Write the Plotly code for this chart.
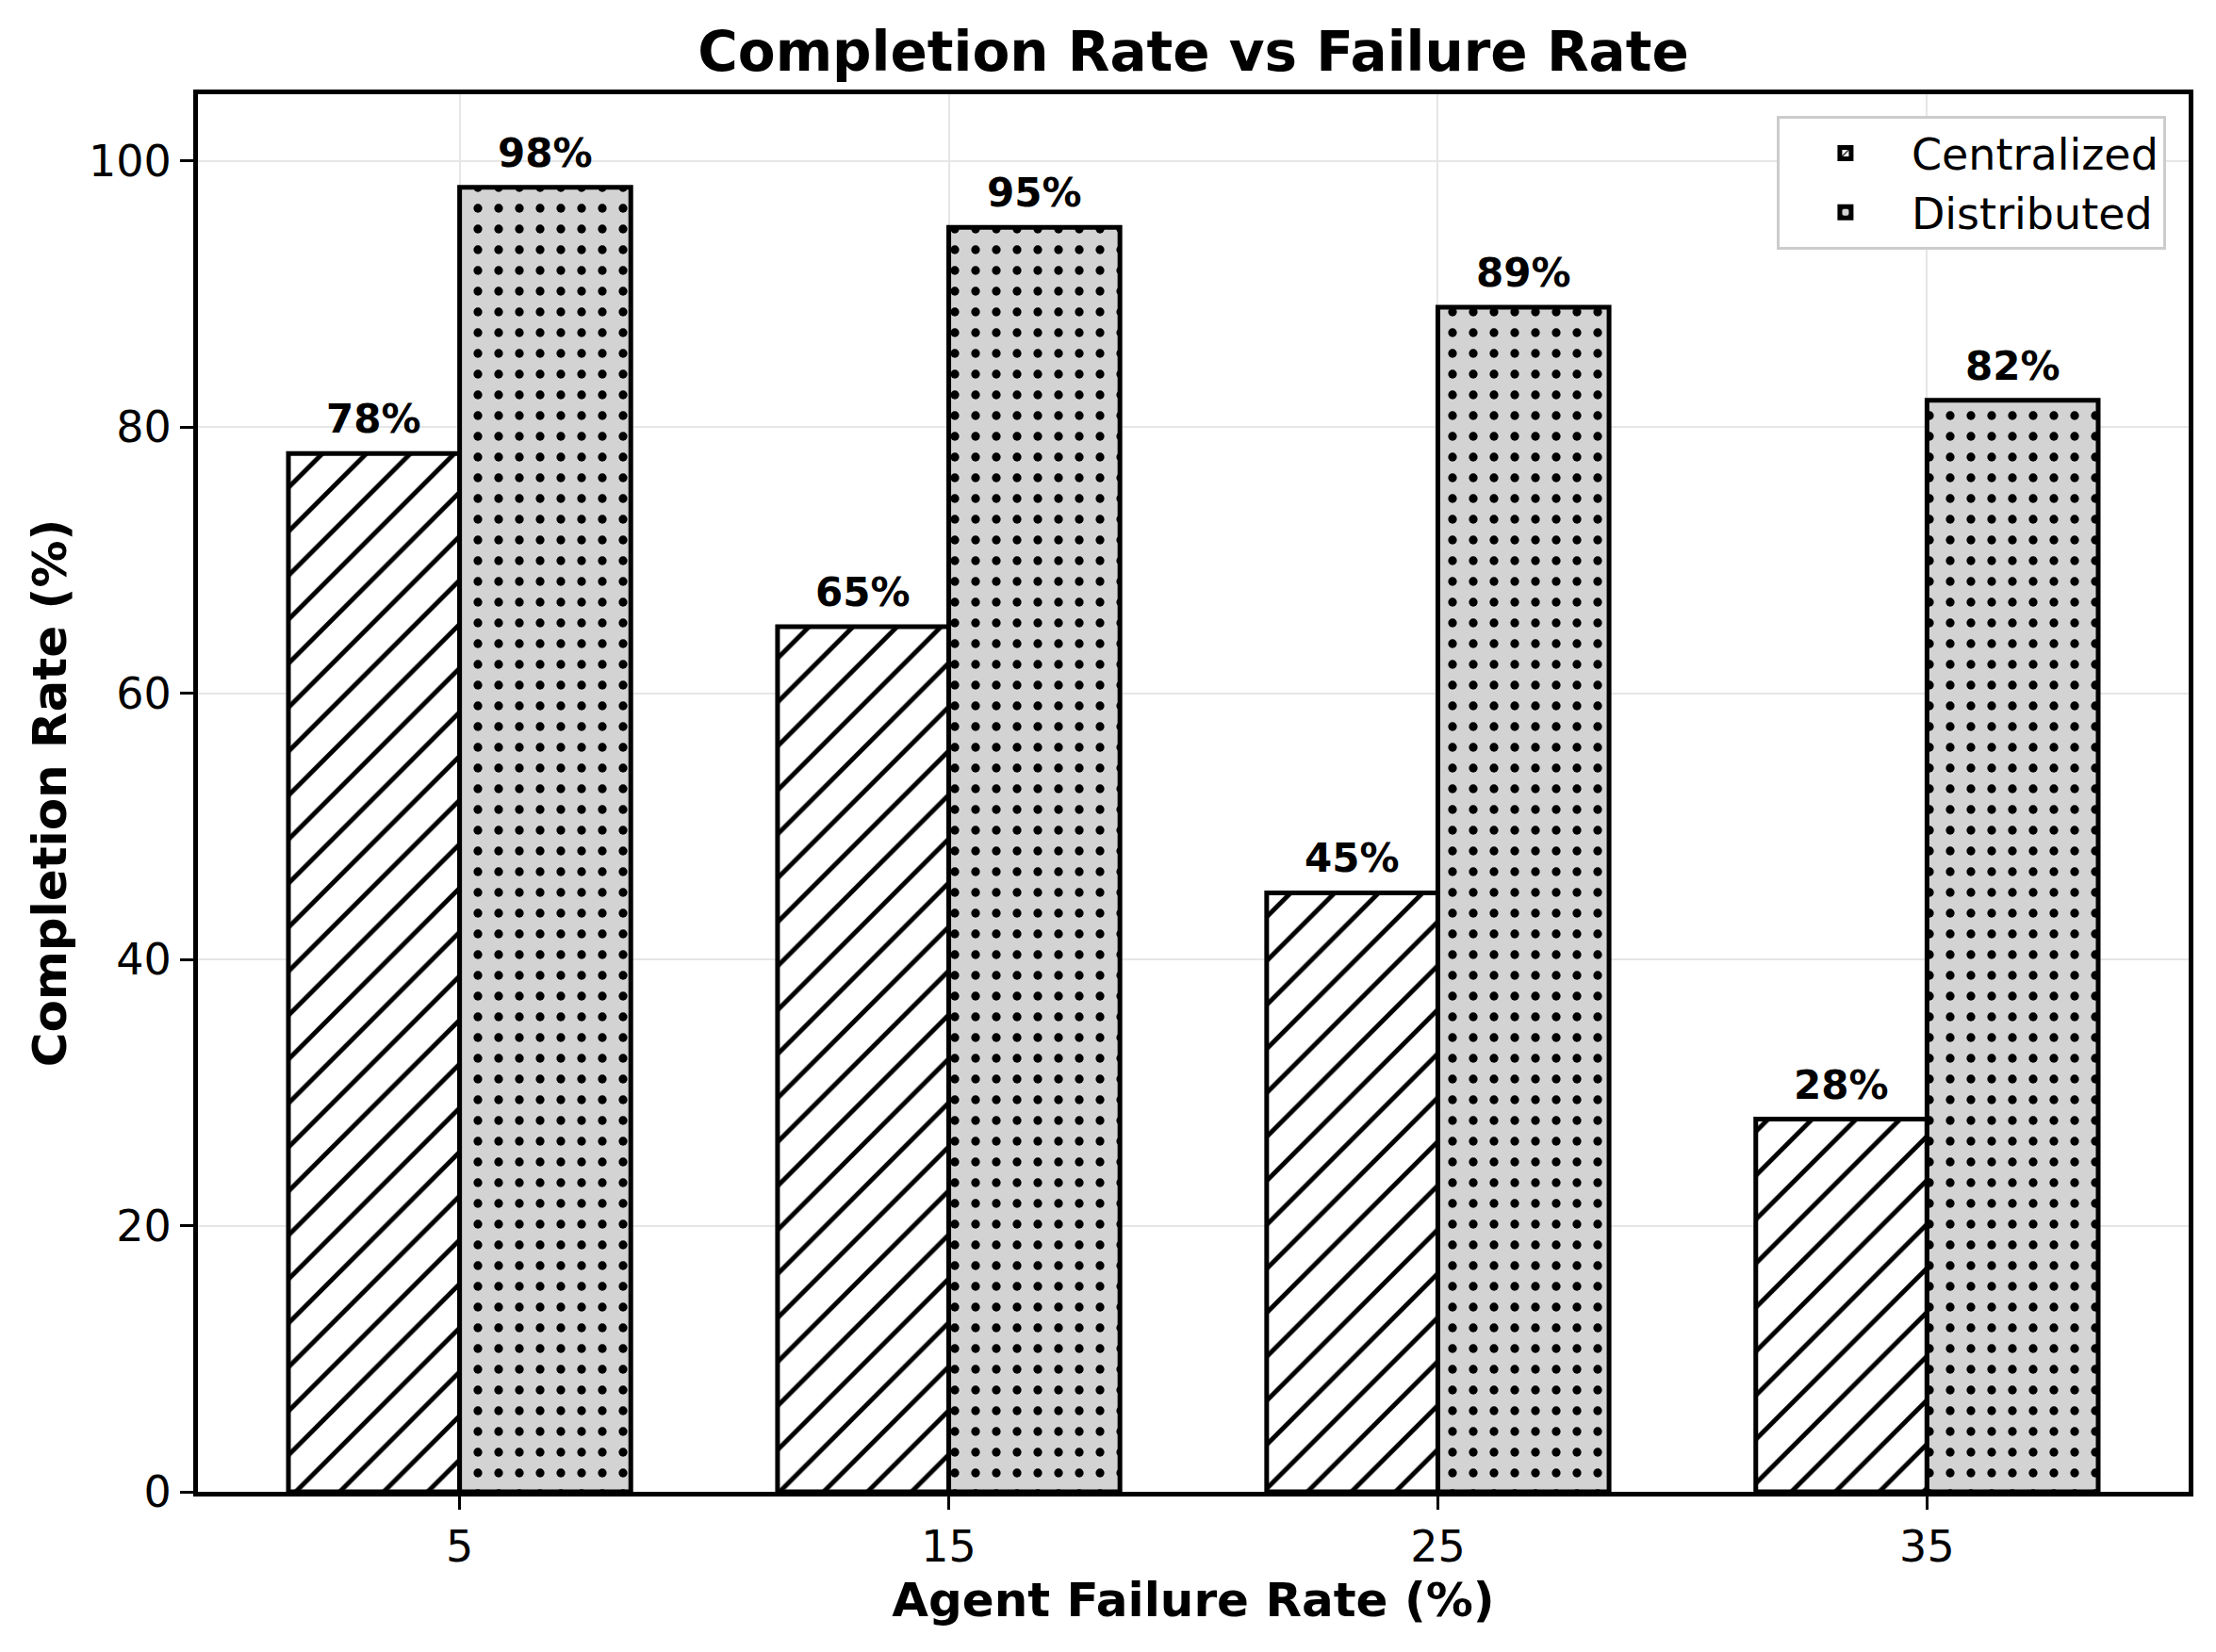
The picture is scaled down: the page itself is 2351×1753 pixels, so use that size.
import plotly.graph_objects as go

failure_rates = ["5", "15", "25", "35"]
centralized = [78, 65, 45, 28]
distributed = [98, 95, 89, 82]

FONT = "DejaVu Sans"
W, H = 2351, 1753
BAR_W = 0.35

idx = list(range(len(failure_rates)))

fig = go.Figure()

fig.add_trace(go.Bar(
    x=idx, y=centralized, name="Centralized",
    width=BAR_W, offset=-BAR_W,
    marker=dict(
        color="white",
        line=dict(color="black", width=5),
        pattern=dict(shape="/", fgcolor="black", bgcolor="white",
                     fgopacity=1, size=33, solidity=0.15),
    ),
))
fig.add_trace(go.Bar(
    x=idx, y=distributed, name="Distributed",
    width=BAR_W, offset=0,
    marker=dict(
        color="#d3d3d3",
        line=dict(color="black", width=5),
        pattern=dict(shape=".", fgcolor="black", bgcolor="#d3d3d3",
                     fgopacity=1, size=22, solidity=0.14),
    ),
))

# value labels above the bars
for series, shift in ((centralized, -BAR_W / 2), (distributed, BAR_W / 2)):
    for i, v in zip(idx, series):
        fig.add_annotation(
            x=i + shift, y=v, text=f"<b>{v}%</b>",
            showarrow=False, yanchor="bottom", yshift=10,
            font=dict(family=FONT, size=42, color="black"),
        )

fig.update_layout(
    width=W, height=H,
    margin=dict(l=210, r=29, t=100, b=170, autoexpand=False),
    paper_bgcolor="white", plot_bgcolor="white",
    barmode="overlay",
    font=dict(family=FONT, color="black"),
    title=dict(
        text="<b>Completion Rate vs Failure Rate</b>",
        x=0.5, xref="paper", xanchor="center",
        y=1 - 55 / H, yref="container", yanchor="middle",
        font=dict(family=FONT, size=58, color="black"),
    ),
    legend=dict(
        x=0.9886, y=0.9845, xanchor="right", yanchor="top",
        bgcolor="white", bordercolor="#cccccc", borderwidth=3,
        font=dict(family=FONT, size=46, color="black"),
        itemwidth=130,
    ),
    showlegend=True,
)

fig.update_xaxes(
    range=[-0.535, 3.535],
    tickmode="array", tickvals=idx, ticktext=failure_rates,
    ticks="outside", ticklen=14, tickwidth=3, tickcolor="black",
    tickfont=dict(family=FONT, size=46, color="black"),
    showline=True, linecolor="black", linewidth=5, mirror=True,
    showgrid=True, gridcolor="#e6e6e6", gridwidth=2,
    zeroline=False,
    title=dict(text="<b>Agent Failure Rate (%)</b>", standoff=14,
               font=dict(family=FONT, size=50, color="black")),
)
fig.update_yaxes(
    range=[0, 105],
    tickmode="array", tickvals=[0, 20, 40, 60, 80, 100],
    ticks="outside", ticklen=14, tickwidth=3, tickcolor="black",
    tickfont=dict(family=FONT, size=46, color="black"),
    showline=True, linecolor="black", linewidth=5, mirror=True,
    showgrid=True, gridcolor="#e6e6e6", gridwidth=2,
    zeroline=False,
    title=dict(text="<b>Completion Rate (%)</b>", standoff=9,
               font=dict(family=FONT, size=50, color="black")),
)

fig.write_html("out.html", config={"displayModeBar": False},
               post_script="document.body.style.margin='0';")
